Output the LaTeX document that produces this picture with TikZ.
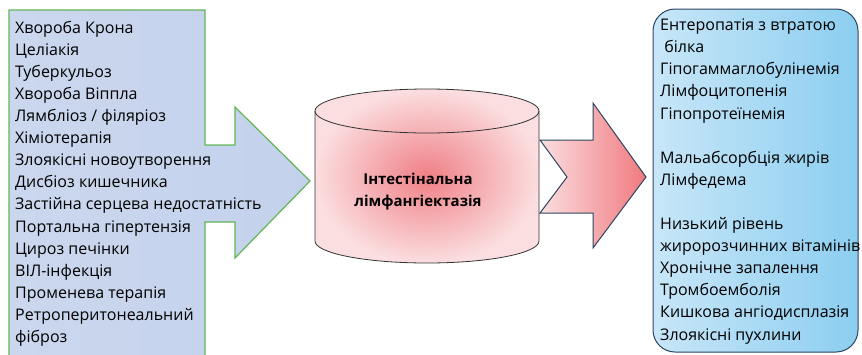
\documentclass[tikz,border=0pt]{standalone}
\usepackage{fontspec}
\setmainfont{Open Sans}
\definecolor{causegreen}{RGB}{98,182,86}
\definecolor{causeblue}{RGB}{203,215,238}
\definecolor{causedark}{RGB}{166,186,226}
\definecolor{edgeslate}{RGB}{44,70,96}
\definecolor{cylpale}{RGB}{251,222,224}
\definecolor{cylred}{RGB}{239,128,134}
\definecolor{boxpale}{RGB}{200,230,248}
\definecolor{boxblue}{RGB}{140,206,240}

\begin{document}
\begin{tikzpicture}[x=1pt,y=-1pt,
  listtext/.style={align=left,inner sep=0pt,font=\fontsize{16}{22.1}\selectfont},
  slate/.style={draw=edgeslate,line width=1pt}]
\useasboundingbox (0,0) rectangle (862,354);
% causes: big arrow
\path[draw=causegreen,line width=1.2pt,left color=causeblue,middle color=causedark,right color=causeblue!80!causedark]
  (9,10) -- (205,10) -- (205,145) -- (235,145) -- (235,107) -- (310,181)
  -- (235,258) -- (235,222) -- (205,222) -- (205,360) -- (9,360) -- cycle;
\node[listtext,anchor=north west] (causes) at (15,20.7)
  {Хвороба Крона\\Целіакія\\Туберкульоз\\Хвороба Віппла\\Лямбліоз / філяріоз\\Хіміотерапія\\Злоякісні новоутворення\\Дисбіоз кишечника\\Застійна серцева недостатність\\Портальна гіпертензія\\Цироз печінки\\ВІЛ-інфекція\\Променева терапія\\Ретроперитонеальний\\фіброз};
%
% cylinder
\path[draw=black!80,line width=.8pt,inner color=cylred,outer color=cylpale]
  (315,111) -- (315,241) arc (180:360:112pt and 22pt) -- (539,111)
  arc (0:180:112pt and 22pt) -- cycle;
\draw[black!80,line width=.8pt] (315,111) arc (180:360:112pt and 22pt);
\node[align=center,inner sep=0pt,font=\fontsize{15}{22}\selectfont\bfseries] (ile) at (418,192)
  {Інтестінальна\\лімфангіектазія};
%
% small arrow
\path[slate,left color=cylpale,right color=cylred!95!red]
  (540,140) -- (593,140) -- (593,103) -- (646,177) -- (593,248)
  -- (593,213) -- (540,213) -- (567,177) -- cycle;
%
% consequences
\path[slate,rounded corners=22pt,left color=boxpale,right color=boxblue]
  (653,9) rectangle (858,352);
\node[listtext,anchor=north west] (effects) at (660,18.7)
  {Ентеропатія з втратою\\\ білка\\Гіпогаммаглобулінемія\\Лімфоцитопенія\\Гіпопротеїнемія\\[22.1pt]Мальабсорбція жирів\\Лімфедема\\[22.1pt]Низький рівень\\жиророзчинних вітамінів\\Хронічне запалення\\Тромбоемболія\\Кишкова ангіодисплазія\\Злоякісні пухлини};
\end{tikzpicture}
\end{document}
